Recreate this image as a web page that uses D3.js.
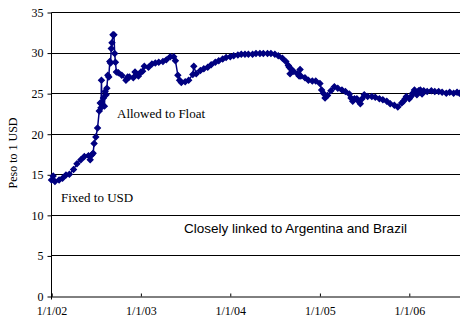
<!DOCTYPE html>
<html>
<head>
<meta charset="UTF-8">
<title>Peso to 1 USD</title>
<script src="https://cdn.jsdelivr.net/npm/d3@7/dist/d3.min.js"></script>
<style>
  body { margin: 0; background: #fff; }
  svg { display: block; }
</style>
</head>
<body>
<script>
// roughly semi-monthly, denser around the float in 2002
var dates = [
  "2002-01-01","2002-01-08","2002-01-15","2002-02-01","2002-02-15","2002-03-01","2002-03-15",
  "2002-04-01","2002-04-15","2002-05-01","2002-05-15","2002-06-01","2002-06-08","2002-06-15",
  "2002-06-20","2002-06-24","2002-07-01","2002-07-08","2002-07-15","2002-07-19","2002-07-22",
  "2002-07-24","2002-07-26","2002-08-01","2002-08-05","2002-08-08","2002-08-12","2002-08-15",
  "2002-08-19","2002-08-23","2002-08-27","2002-08-30","2002-09-02","2002-09-05","2002-09-09",
  "2002-09-13","2002-09-16","2002-09-19","2002-09-23","2002-10-01","2002-10-15","2002-11-01",
  "2002-11-08","2002-11-15","2002-12-01","2002-12-08","2002-12-15","2002-12-22",
  "2003-01-01","2003-01-08","2003-01-15","2003-02-01","2003-02-15","2003-03-01","2003-03-15",
  "2003-04-01","2003-04-15","2003-05-01","2003-05-15","2003-05-22","2003-06-01","2003-06-08",
  "2003-06-15","2003-07-01","2003-07-15","2003-08-01","2003-08-05","2003-08-15","2003-09-01",
  "2003-09-15","2003-10-01","2003-10-15","2003-11-01","2003-11-15","2003-12-01","2003-12-15",
  "2004-01-01","2004-01-15","2004-02-01","2004-02-15","2004-03-01","2004-03-15","2004-04-01",
  "2004-04-15","2004-05-01","2004-05-15","2004-06-01","2004-06-15","2004-07-01","2004-07-15",
  "2004-08-01","2004-08-15","2004-08-25","2004-08-29","2004-09-01","2004-09-04","2004-09-15",
  "2004-10-01","2004-10-08","2004-10-12","2004-10-15","2004-11-01","2004-11-15","2004-12-01",
  "2004-12-15",
  "2005-01-01","2005-01-08","2005-01-15","2005-01-22","2005-02-01","2005-02-15","2005-03-01",
  "2005-03-15","2005-04-01","2005-04-15","2005-05-01","2005-05-08","2005-05-15","2005-05-22",
  "2005-06-01","2005-06-08","2005-06-15","2005-06-22","2005-07-01","2005-07-15","2005-08-01",
  "2005-08-15","2005-09-01","2005-09-15","2005-10-01","2005-10-15","2005-11-01","2005-11-15",
  "2005-12-01","2005-12-08","2005-12-15","2005-12-20",
  "2006-01-01","2006-01-08","2006-01-15","2006-01-22","2006-02-01","2006-02-08","2006-02-15",
  "2006-02-22","2006-03-01","2006-03-15","2006-04-01","2006-04-15","2006-05-01","2006-05-15",
  "2006-06-01","2006-06-15","2006-07-01","2006-07-15","2006-07-25"
];
var pesos = [
  14.3,14.8,14.1,14.3,14.5,14.9,15.0,
  15.6,16.3,16.8,17.2,17.3,16.8,17.4,
  17.6,18.8,19.6,20.7,22.8,23.8,23.2,
  26.6,23.6,24.4,23.4,25.2,24.8,25.6,
  27.2,27.0,28.9,28.7,30.5,31.2,32.2,
  32.2,29.9,28.8,27.6,27.5,27.2,26.6,
  27.0,27.0,26.9,27.6,27.3,27.1,
  27.6,27.7,28.3,28.2,28.6,28.7,28.8,
  28.9,29.1,29.5,29.5,29.0,27.2,26.6,
  26.3,26.4,26.6,27.3,28.3,27.4,27.8,
  28.0,28.2,28.5,28.8,29.0,29.2,29.4,
  29.5,29.6,29.7,29.8,29.8,29.8,29.8,
  29.9,29.9,29.9,29.9,29.9,29.8,29.6,
  29.3,28.9,28.4,28.2,27.4,28.0,27.7,
  27.4,27.1,27.9,27.1,26.9,26.6,26.5,
  26.5,
  26.2,25.4,25.0,24.4,24.7,25.3,25.8,
  25.6,25.4,25.2,24.9,24.4,24.0,24.3,
  24.3,24.0,23.7,24.3,24.8,24.6,24.6,
  24.5,24.3,24.2,24.0,23.7,23.5,23.3,
  23.8,24.0,24.3,24.6,
  24.3,24.6,25.0,25.4,24.8,25.3,25.4,
  24.9,25.3,25.2,25.3,25.2,25.2,25.1,
  25.0,25.1,25.0,25.1,25.0
];
var yTicks = [0, 5, 10, 15, 20, 25, 30, 35];
var xTicks = ["2002-01-01", "2003-01-01", "2004-01-01", "2005-01-01", "2006-01-01"];

var w = 460, h = 324;
var plotLeft = 51.5, plotRight = 460, plotTop = 12, plotBottom = 296;
var parse = d3.timeParse("%Y-%m-%d");

var svg = d3.select("body").append("svg")
    .attr("width", w)
    .attr("height", h);

var x = d3.scaleTime()
    .domain([parse("2002-01-01"), parse("2006-07-27")])
    .range([plotLeft, plotRight]);
var y = d3.scaleLinear()
    .domain([0, 35])
    .range([plotBottom, plotTop]);

// horizontal gridlines
svg.append("g")
    .selectAll("line")
    .data(yTicks.filter(function (d) { return d > 0; }))
    .enter()
    .append("line")
    .attr("x1", plotLeft)
    .attr("x2", plotRight)
    .attr("y1", function (d) { return Math.round(y(d)) + 0.5; })
    .attr("y2", function (d) { return Math.round(y(d)) + 0.5; })
    .attr("stroke", "#000")
    .attr("stroke-width", 1);

var yAxis = svg.append("g")
    .attr("transform", "translate(" + plotLeft + ",0.5)")
    .call(d3.axisLeft(y).tickValues(yTicks).tickSize(4).tickPadding(4));
var xAxis = svg.append("g")
    .attr("transform", "translate(0," + (plotBottom + 0.5) + ")")
    .call(d3.axisBottom(x).tickValues(xTicks.map(parse)).tickSize(-3).tickPadding(10)
        .tickFormat(d3.timeFormat("%-m/%-d/%y")));

[yAxis, xAxis].forEach(function (g) {
    g.select(".domain").attr("stroke", "#000");
    g.selectAll("line").attr("stroke", "#000");
    g.selectAll("text")
        .attr("font-family", "'Liberation Serif', 'Times New Roman', serif")
        .attr("font-size", 12)
        .attr("fill", "#000");
});
yAxis.select(".domain").attr("d", "M0," + plotTop + "V" + (plotBottom + 3));

var series = dates.map(function (d, i) { return { date: parse(d), value: pesos[i] }; });

svg.append("path")
    .datum(series)
    .attr("fill", "none")
    .attr("stroke", "#000080")
    .attr("stroke-width", 1.5)
    .attr("d", d3.line()
        .x(function (d) { return x(d.date); })
        .y(function (d) { return y(d.value); }));

var marker = d3.symbol().type(d3.symbolSquare).size(16);
svg.append("g")
    .selectAll("path")
    .data(series)
    .enter()
    .append("path")
    .attr("d", marker)
    .attr("transform", function (d) {
        return "translate(" + x(d.date) + "," + y(d.value) + ") rotate(45)";
    })
    .attr("fill", "#000080")
    .attr("stroke", "#000080")
    .attr("stroke-width", 1.3);

// y axis title
svg.append("text")
    .attr("transform", "translate(17,153) rotate(-90)")
    .attr("text-anchor", "middle")
    .attr("font-family", "'Liberation Serif', 'Times New Roman', serif")
    .attr("font-size", 12)
    .text("Peso to 1 USD");

svg.append("text")
    .attr("x", 117)
    .attr("y", 118)
    .attr("font-family", "'Liberation Serif', 'Times New Roman', serif")
    .attr("font-size", 13)
    .text("Allowed to Float");

svg.append("text")
    .attr("x", 61)
    .attr("y", 202)
    .attr("font-family", "'Liberation Serif', 'Times New Roman', serif")
    .attr("font-size", 13)
    .text("Fixed to USD");

svg.append("text")
    .attr("x", 184)
    .attr("y", 233)
    .attr("font-family", "'Liberation Sans', Arial, sans-serif")
    .attr("font-size", 13.5)
    .text("Closely linked to Argentina and Brazil");
</script>
</body>
</html>
